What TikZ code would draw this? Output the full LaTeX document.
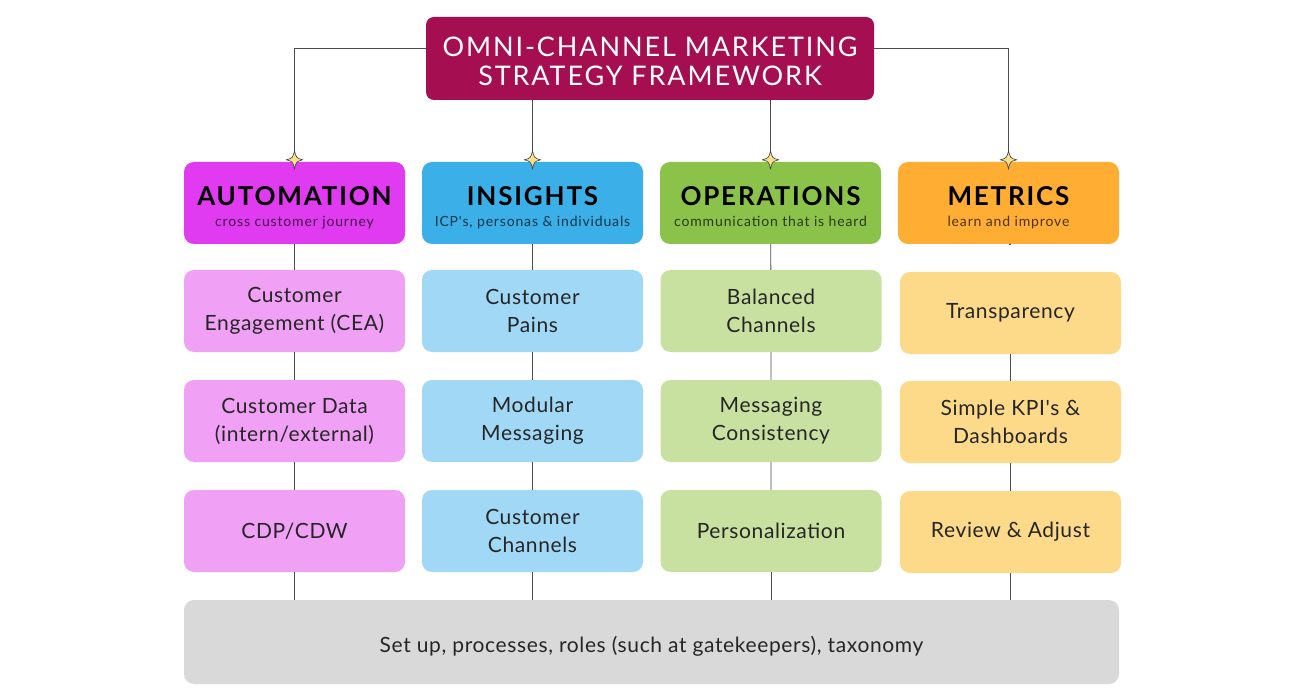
\documentclass[tikz,border=0pt]{standalone}
\usepackage{fontspec}
\setmainfont{Lato}
\newfontfamily\headfont[LetterSpace=7]{Lato}
\newfontfamily\titlefont[LetterSpace=7]{Lato}
\newfontfamily\subfont[LetterSpace=6]{Lato}
\newfontfamily\itemfont[LetterSpace=3]{Lato}
\usepackage{tikz}

\definecolor{titlered}{HTML}{A50F52}
\definecolor{automag}{HTML}{E03BF0}
\definecolor{insblue}{HTML}{3BB0E8}
\definecolor{opsgreen}{HTML}{8BC34A}
\definecolor{metorange}{HTML}{FFAD33}
\definecolor{autolight}{HTML}{F0A0F5}
\definecolor{inslight}{HTML}{A0D8F5}
\definecolor{opslight}{HTML}{C8E0A0}
\definecolor{metlight}{HTML}{FDD98A}
\definecolor{baseground}{HTML}{D9D9D9}
\definecolor{sparkfill}{HTML}{F8E08E}

% push a box down inside its node by half the extra height
\newcommand{\lowered}[2]{\raisebox{0pt}[\dimexpr\height+#1\relax][\depth]{#2}}
\newcommand{\headtext}[3]{\lowered{10pt}{\begin{tabular}{@{}c@{}}
  {\headfont\bfseries\fontsize{26}{28}\selectfont #1}\\[7pt]
  {\subfont\fontsize{14}{15}\selectfont\color{black!70!#3}#2}\end{tabular}}}

\begin{document}
\begin{tikzpicture}[x=1pt,y=-1pt,
  link/.style={draw=black!70,line width=0.9pt},
  head/.style={rounded corners=10pt,minimum width=221pt,minimum height=82pt,inner sep=0pt},
  item/.style={rounded corners=10pt,minimum width=221pt,minimum height=82pt,align=center,inner sep=0pt,
    text=black!85,font=\itemfont\fontsize{21}{28}\selectfont},
  sparkle/.pic={\draw[fill=sparkfill,draw=black!75,line width=0.6pt]
    (0,-9) .. controls (1.8,-1.8) .. (8,0) .. controls (1.8,1.8) .. (0,9)
    .. controls (-1.8,1.8) .. (-8,0) .. controls (-1.8,-1.8) .. (0,-9) -- cycle;}]
  \useasboundingbox (0,0) rectangle (1300,700);

  % title
  \node (title) at (650,58.5) [fill=titlered,rounded corners=8pt,minimum width=448pt,minimum height=83pt,
    text=white,font=\titlefont\fontsize{27}{29}\selectfont]
    {\lowered{14pt}{\begin{tabular}{@{}c@{}}OMNI-CHANNEL MARKETING\\STRATEGY FRAMEWORK\end{tabular}}};

  % headers
  \node (auto) at (294.5,203) [head,fill=automag] {\headtext{AUTOMATION}{cross customer journey}{automag}};
  \node (ins) at (532.5,203) [head,fill=insblue] {\headtext{INSIGHTS}{ICP's, personas \& individuals}{insblue}};
  \node (ops) at (770.5,203) [head,fill=opsgreen] {\headtext{OPERATIONS}{communication that is heard}{opsgreen}};
  \node (met) at (1008.5,203) [head,fill=metorange] {\headtext{METRICS}{learn and improve}{metorange}};

  % items
  \node (a1) at (294.5,311) [item,fill=autolight] {Customer\\Engagement (CEA)};
  \node (a2) at (294.5,421) [item,fill=autolight] {Customer Data\\(intern/external)};
  \node (a3) at (294.5,531) [item,fill=autolight] {CDP/CDW};
  \node (i1) at (532.5,311) [item,fill=inslight] {Customer\\Pains};
  \node (i2) at (532.5,421) [item,fill=inslight] {Modular\\Messaging};
  \node (i3) at (532.5,531) [item,fill=inslight] {Customer\\Channels};
  \node (o1) at (771,311) [item,fill=opslight] {Balanced\\Channels};
  \node (o2) at (771,421) [item,fill=opslight] {Messaging\\Consistency};
  \node (o3) at (771,531) [item,fill=opslight] {Personalization};
  \node (m1) at (1010.5,313) [item,fill=metlight] {Transparency};
  \node (m2) at (1010.5,422) [item,fill=metlight] {Simple KPI's \&\\Dashboards};
  \node (m3) at (1010.5,532) [item,fill=metlight] {Review \& Adjust};

  % base
  \node (base) at (651.5,642) [fill=baseground,rounded corners=10pt,minimum width=935pt,minimum height=84pt,
    text=black!85,font=\itemfont\fontsize{21}{24}\selectfont]
    {\lowered{8pt}{Set up, processes, roles (such at gatekeepers), taxonomy}};

  % connectors
  \draw[link] ([yshift=10pt]title.west) -| (auto.north);
  \draw[link] ([yshift=10pt]title.east) -| (met.north);
  \draw[link] (ins.north |- title.south) -- (ins.north);
  \draw[link] (ops.north |- title.south) -- (ops.north);
  \draw[link] (auto) -- (a1) -- (a2) -- (a3);
  \draw[link] (ins) -- (i1) -- (i2) -- (i3);
  \draw[link] (ops) -- (o1) -- (o2) -- (o3);
  \draw[link] (met.south) -- (m1.north |- met.south);
  \draw[link] (m1) -- (m2) -- (m3);
  \draw[link] (a3.south) -- (a3.south |- base.north);
  \draw[link] (i3.south) -- (i3.south |- base.north);
  \draw[link] (o3.south) -- (o3.south |- base.north);
  \draw[link] (m3.south) -- (m3.south |- base.north);

  \pic at ([yshift=2pt]auto.north) {sparkle};
  \pic at ([yshift=2pt]ins.north) {sparkle};
  \pic at ([yshift=2pt]ops.north) {sparkle};
  \pic at ([yshift=2pt]met.north) {sparkle};
\end{tikzpicture}
\end{document}
